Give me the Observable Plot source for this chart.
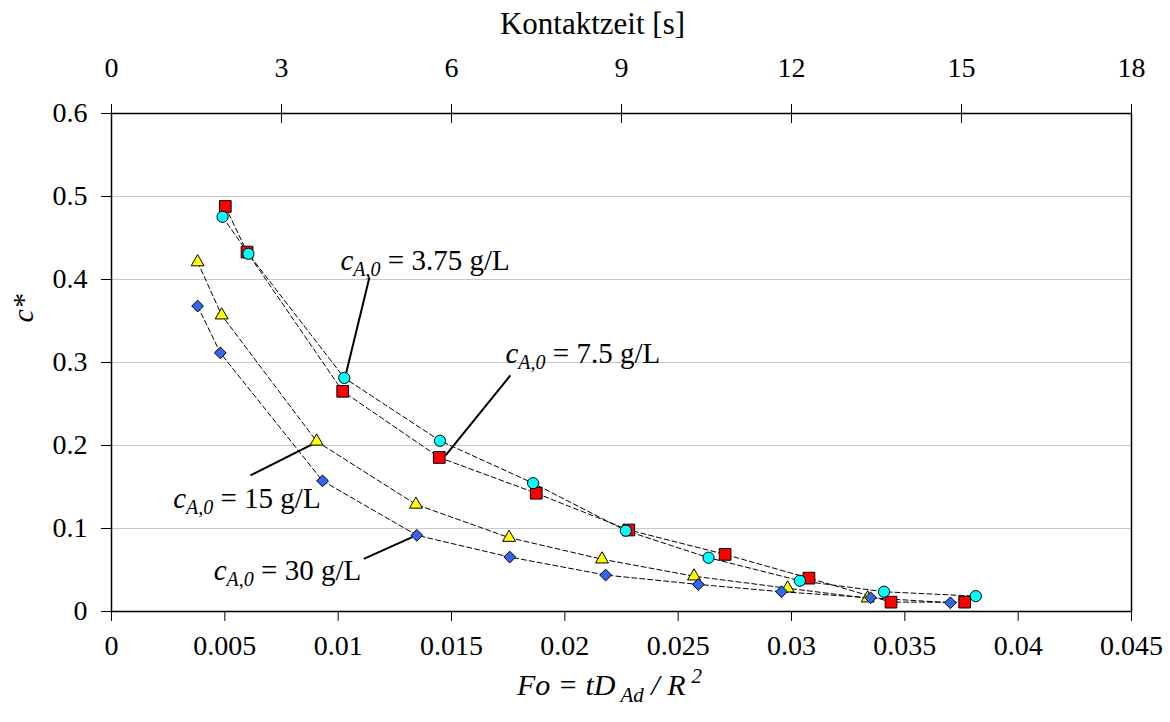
<!DOCTYPE html>
<html>
<head>
<meta charset="utf-8">
<script src="https://cdn.jsdelivr.net/npm/d3@7"></script>
<script src="https://cdn.jsdelivr.net/npm/@observablehq/plot@0.6"></script>
<style>
  body { margin: 0; background: #fff; }
  #chart svg { display: block; }
  #chart svg, #chart svg text, #chart svg tspan { font-family: "Liberation Serif", "Times New Roman", serif !important; }
</style>
</head>
<body>
<div id="chart"></div>
<script>
// ---------- data ----------
// c_A,0 = 3.75 g/L (cyan circles)
const fo375 = [0.0049, 0.00604, 0.01027, 0.01449, 0.0186, 0.02269, 0.02634, 0.03037, 0.03408, 0.03813];
const c375  = [0.4755, 0.431, 0.2814, 0.2057, 0.1546, 0.0974, 0.0648, 0.0371, 0.0238, 0.0185];
// c_A,0 = 7.5 g/L (red squares)
const fo75 = [0.00502, 0.00598, 0.0102, 0.01446, 0.01874, 0.02282, 0.02707, 0.03077, 0.03439, 0.03764];
const c75  = [0.488, 0.433, 0.2653, 0.1856, 0.1425, 0.0982, 0.0688, 0.0402, 0.0113, 0.0113];
// c_A,0 = 15 g/L (yellow triangles)
const fo15 = [0.0038, 0.00486, 0.00905, 0.01343, 0.01754, 0.02164, 0.0257, 0.02983, 0.03336];
const c15  = [0.421, 0.357, 0.205, 0.129, 0.089, 0.063, 0.0425, 0.028, 0.016];
// c_A,0 = 30 g/L (blue diamonds)
const fo30 = [0.0038, 0.0048, 0.00931, 0.01347, 0.01757, 0.0218, 0.02589, 0.02956, 0.03349, 0.03701];
const c30  = [0.368, 0.3116, 0.1574, 0.0918, 0.0656, 0.0439, 0.0326, 0.0238, 0.0165, 0.0105];

// axes
const xTicks = [0, 0.005, 0.01, 0.015, 0.02, 0.025, 0.03, 0.035, 0.04, 0.045];
const yTicks = [0, 0.1, 0.2, 0.3, 0.4, 0.5, 0.6];
const topTicks = [0, 3, 6, 9, 12, 15, 18];   // Kontaktzeit [s]
const secondsPerFo = 400;                      // 18 s <-> Fo = 0.045

// annotations (label, label anchor, leader line from -> to), in data units
const annoLabel = ["= 3.75 g/L", "= 7.5 g/L", "= 15 g/L", "= 30 g/L"];
const annoTextX = [0.0101, 0.01738, 0.00272, 0.00451];
const annoTextY = [0.411, 0.299, 0.1242, 0.0374];
const annoFromX = [0.01138, 0.0176, 0.00613, 0.01113];
const annoFromY = [0.4026, 0.2845, 0.164, 0.0635];
const annoToX   = [0.01035, 0.01474, 0.00892, 0.01327];
const annoToY   = [0.287, 0.188, 0.2022, 0.0896];

// ---------- tables ----------
const toRows = (xs, ys, s) => xs.map((x, i) => ({fo: x, c: ys[i], series: s}));
const s375 = toRows(fo375, c375, "3.75");
const s75  = toRows(fo75, c75, "7.5");
const s15  = toRows(fo15, c15, "15");
const s30  = toRows(fo30, c30, "30");
const allRows = [...s375, ...s75, ...s15, ...s30];
const anno = annoLabel.map((t, i) => ({
  text: t, tx: annoTextX[i], ty: annoTextY[i],
  x1: annoFromX[i], y1: annoFromY[i], x2: annoToX[i], y2: annoToY[i]
}));

const fmt = d => String(+d.toFixed(3));
const serif = "Liberation Serif";

const plot = Plot.plot({
  width: 1170,
  height: 722,
  marginLeft: 111,
  marginRight: 39,
  marginTop: 113,
  marginBottom: 111,
  style: {fontFamily: serif, fontSize: "28px", background: "#fff", color: "#000"},
  x: {domain: [0, 0.045]},
  y: {domain: [0, 0.6]},
  marks: [
    Plot.gridY(yTicks.filter(d => d > 0 && d < 0.6), {stroke: "#c8c8c8", strokeOpacity: 1, strokeWidth: 1.2}),
    Plot.line(allRows, {x: "fo", y: "c", z: "series", stroke: "#000", strokeWidth: 1, strokeDasharray: "5,3"}),
    Plot.link(anno, {x1: "x1", y1: "y1", x2: "x2", y2: "y2", stroke: "#000", strokeWidth: 2}),
    Plot.dot(s15, {x: "fo", y: "c", symbol: "triangle", r: 4.8, fill: "#ffff00", stroke: "#000", strokeWidth: 1}),
    Plot.dot(s30, {x: "fo", y: "c", symbol: "diamond2", r: 5.3, fill: "#3366ee", stroke: "#000", strokeWidth: 1}),
    Plot.dot(s75, {x: "fo", y: "c", symbol: "square", r: 6.6, fill: "#ff0000", stroke: "#000", strokeWidth: 1}),
    Plot.dot(s375, {x: "fo", y: "c", symbol: "circle", r: 5.6, fill: "#00ffff", stroke: "#000", strokeWidth: 1}),
    Plot.frame({stroke: "#000", strokeWidth: 1.5}),
    // bottom axis
    Plot.axisX({anchor: "bottom", ticks: xTicks, tickFormat: fmt, tickSize: 10, tickPadding: 14, label: null, fontFamily: serif, fontSize: 28}),
    // left axis
    Plot.axisY({anchor: "left", ticks: yTicks, tickFormat: fmt, tickSize: 10, tickPadding: 14, label: null, fontFamily: serif, fontSize: 28}),
    // top axis (Kontaktzeit)
    Plot.axisX({anchor: "top", ticks: topTicks.map(s => s / secondsPerFo), tickFormat: d => Math.round(d * secondsPerFo), tickSize: 0, tickPadding: 37, label: null, fontFamily: serif, fontSize: 28}),
    Plot.ruleX(topTicks, {x: s => s / secondsPerFo, y1: 0.6, y2: 0.6, insetTop: -9, insetBottom: -10, stroke: "#000", strokeWidth: 1}),
    // annotation labels
    Plot.text(anno, {x: "tx", y: "ty", text: "text", textAnchor: "start", lineAnchor: "bottom", fontSize: 29, fontFamily: serif, ariaDescription: "anno-label"}),
    // titles
    Plot.text(["Kontaktzeit [s]"], {frameAnchor: "top", dx: -29, dy: -80, lineAnchor: "bottom", fontSize: 31, fontFamily: serif}),
    Plot.text(["Fo = tD"], {frameAnchor: "bottom", dx: -12, dy: 83, lineAnchor: "bottom", fontSize: 30, fontStyle: "italic", fontFamily: serif, ariaDescription: "x-title"}),
    Plot.text(["c*"], {frameAnchor: "left", dx: -79, dy: -40, rotate: -90, lineAnchor: "bottom", fontSize: 30, fontStyle: "italic", fontFamily: serif})
  ]
});

const svg = d3.select(plot);
// annotation labels: c_{A,0} = ...
svg.selectAll('g[aria-description="anno-label"] text').each(function () {
  const t = d3.select(this);
  const rest = t.text();
  t.text(null);
  t.append("tspan").attr("font-style", "italic").text("c");
  t.append("tspan").attr("font-style", "italic").attr("font-size", "20px").attr("dy", 6).text("A,0");
  t.append("tspan").attr("dy", -6).text(" " + rest);
});
// x title: Fo = tD_Ad / R^2
svg.selectAll('g[aria-description="x-title"] text').each(function () {
  const t = d3.select(this);
  t.text(null);
  t.append("tspan").text("Fo = tD");
  t.append("tspan").attr("font-size", "21px").attr("dx", 5).attr("dy", 7).text("Ad");
  t.append("tspan").attr("dy", -7).text(" / R");
  t.append("tspan").attr("font-size", "21px").attr("dx", 6).attr("dy", -12).text("2");
});

document.getElementById("chart").appendChild(plot);
</script>
</body>
</html>
